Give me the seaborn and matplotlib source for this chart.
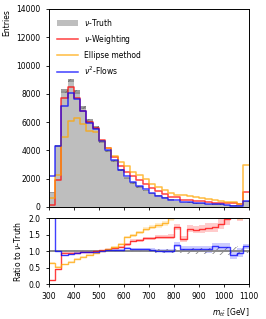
"""Invariant mass of the ttbar system: truth vs reconstruction methods, with ratio panel."""

import matplotlib

matplotlib.use("Agg")
import matplotlib.pyplot as plt
import numpy as np
import pandas as pd
import seaborn as sns
from matplotlib.lines import Line2D
from matplotlib.patches import Patch

MASS_MIN = 300
MASS_MAX = 1100
BIN_WIDTH = 25
# events carry weights, so the statistical error is wider than sqrt(N)
MEAN_WEIGHT = 2.0

# entries per 25 GeV bin, last bin holds the overflow
truth_counts = [
    1000, 4300, 8200, 8950, 8150, 7050, 6100, 5600, 4650, 3950, 3250, 2600,
    2050, 1680, 1420, 1170, 950, 800, 640, 510, 420, 360, 310, 270,
    235, 205, 180, 160, 140, 120, 100, 380,
]
weighting_counts = [
    110, 1935, 7710, 8500, 7740, 6770, 5980, 5600, 4740, 4150, 3510, 2910,
    2460, 2200, 1890, 1615, 1310, 1130, 910, 730, 720, 495, 520, 445,
    390, 350, 310, 290, 275, 265, 210, 1080,
]
ellipse_counts = [
    640, 2280, 4920, 6090, 6280, 5850, 5370, 5320, 4650, 4150, 3610, 3170,
    2910, 2470, 2230, 1950, 1630, 1420, 1180, 1020, 880, 830, 760, 690,
    610, 550, 485, 450, 365, 325, 215, 2950,
]
flows_counts = [
    2200, 4300, 7130, 8060, 7660, 6770, 5920, 5490, 4650, 4030, 3320, 2650,
    2210, 1780, 1505, 1240, 980, 810, 645, 515, 500, 385, 330, 290,
    250, 215, 205, 180, 155, 105, 95, 435,
]

METHODS = [
    ("$\\nu$-Weighting", weighting_counts, "red"),
    ("Ellipse method", ellipse_counts, "orange"),
    ("$\\nu^2$-Flows", flows_counts, "blue"),
]
TRUTH_LABEL = "$\\nu$-Truth"
TRUTH_COLOR = "#bebebe"


def binned_hist(ax, centers, values, edges, **kwargs):
    """Draw pre-binned values through seaborn's histplot."""
    frame = pd.DataFrame({"mass": centers, "value": np.asarray(values, dtype=float)})
    sns.histplot(
        data=frame, x="mass", weights="value", bins=list(edges),
        element="step", ax=ax, **kwargs,
    )


def step_band(ax, edges, low, high, **kwargs):
    """Shade a per-bin band as a step."""
    ax.fill_between(
        edges,
        np.append(low, low[-1]),
        np.append(high, high[-1]),
        step="post",
        linewidth=0,
        **kwargs,
    )


def main() -> None:
    plt.rcParams["font.family"] = ["DejaVu Sans"]
    plt.rcParams["font.size"] = 5.5
    plt.rcParams["mathtext.fontset"] = "dejavusans"
    plt.rcParams["hatch.linewidth"] = 0.6

    edges = np.arange(MASS_MIN, MASS_MAX + 1, BIN_WIDTH)
    centers = 0.5 * (edges[:-1] + edges[1:])
    truth = np.array(truth_counts, dtype=float)
    truth_err = np.sqrt(MEAN_WEIGHT * truth)

    fig = plt.figure(figsize=(2.66, 3.19), dpi=100)
    ax = fig.add_axes([0.1842, 0.3511, 0.7519, 0.6207])
    rax = fig.add_axes([0.1842, 0.1097, 0.7519, 0.2069])

    # main panel
    binned_hist(ax, centers, truth, edges, fill=True, color=TRUTH_COLOR, alpha=1.0, linewidth=0)
    ax.bar(
        centers, 2 * truth_err, bottom=truth - truth_err, width=BIN_WIDTH,
        facecolor="#8c8c8c", edgecolor="#6a6a6a", hatch="////", linewidth=0,
        alpha=0.85,
    )
    for label, counts, color in METHODS:
        binned_hist(ax, centers, counts, edges, fill=False, color=color, alpha=0.75, linewidth=1.1)

    ax.set_xlim(MASS_MIN, MASS_MAX)
    ax.set_ylim(0, 14000)
    ax.set_yticks(np.arange(0, 14001, 2000))
    ax.set_xticks(np.arange(MASS_MIN, MASS_MAX + 1, 100))
    ax.tick_params(labelbottom=False, labelsize=5.5, length=2.5, width=0.6)
    ax.set_xlabel("")
    ax.set_ylabel("Entries", loc="top", fontsize=5.5)

    handles = [Patch(facecolor=TRUTH_COLOR, edgecolor="none")]
    handles += [Line2D([0], [0], color=c, alpha=0.75, lw=1.1) for _, _, c in METHODS]
    labels = [TRUTH_LABEL] + [m[0] for m in METHODS]
    ax.legend(
        handles, labels, loc="upper left", frameon=False, fontsize=5.5,
        handlelength=2.8, labelspacing=0.65, borderaxespad=0.6,
        bbox_to_anchor=(0.0, 1.0),
    )

    # ratio panel
    rel_err = truth_err / truth
    rax.bar(
        centers, 2 * rel_err, bottom=1 - rel_err, width=BIN_WIDTH,
        facecolor="none", edgecolor="#8a8a8a", hatch="////", linewidth=0,
    )
    binned_hist(rax, centers, np.ones_like(truth), edges, fill=False, color="#8a8a8a", linewidth=1.4)
    for label, counts, color in METHODS:
        counts = np.array(counts, dtype=float)
        ratio = counts / truth
        err = ratio * np.sqrt(MEAN_WEIGHT / counts)
        step_band(rax, edges, ratio - err, ratio + err, color=color, alpha=0.2)
        binned_hist(rax, centers, ratio, edges, fill=False, color=color, alpha=0.75, linewidth=1.0)

    rax.set_xlim(MASS_MIN, MASS_MAX)
    rax.set_ylim(0, 2)
    rax.set_yticks([0, 0.5, 1.0, 1.5, 2.0])
    rax.set_xticks(np.arange(MASS_MIN, MASS_MAX + 1, 100))
    rax.tick_params(labelsize=5.5, length=2.5, width=0.6)
    rax.set_ylabel("Ratio to $\\nu$-Truth", fontsize=5.5)
    rax.set_xlabel("$m_{t\\bar{t}}$ [GeV]", loc="right", fontsize=5.5)

    for a in (ax, rax):
        for spine in a.spines.values():
            spine.set_linewidth(0.7)

    fig.savefig("out.png", dpi=100)
    plt.close(fig)


if __name__ == "__main__":
    main()
